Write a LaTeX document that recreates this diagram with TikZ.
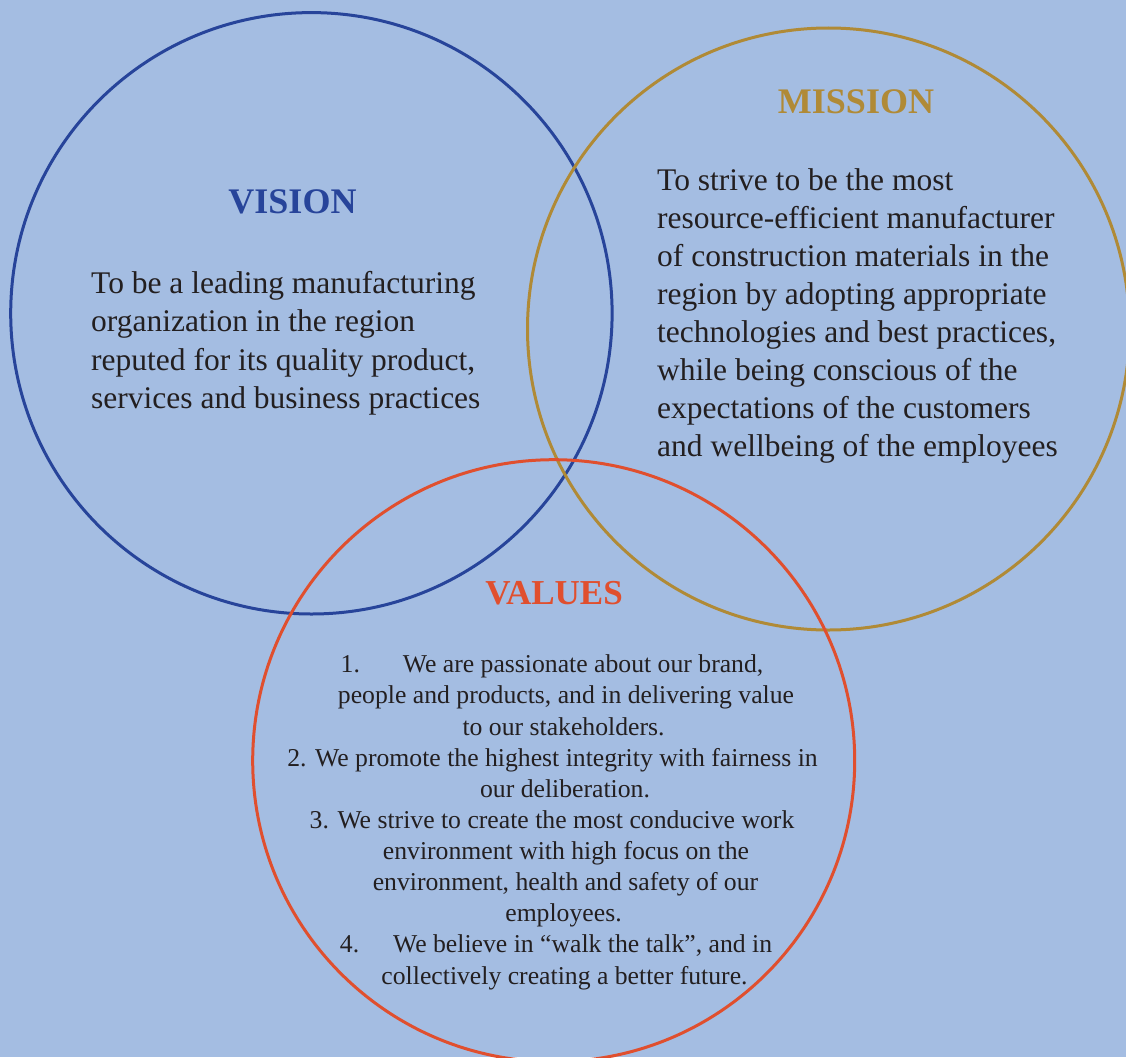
\documentclass[tikz,border=0pt]{standalone}
\usepackage{fontspec}
\setmainfont{Liberation Serif}
\definecolor{bg}{HTML}{A4BDE2}
\definecolor{visionc}{HTML}{27449A}
\definecolor{missionc}{HTML}{B08A36}
\definecolor{valuesc}{HTML}{E04F2E}
\definecolor{txt}{HTML}{231F20}
\begin{document}
\begin{tikzpicture}[x=1pt,y=-1pt,
  ring/.style={line width=3pt},
  heading/.style={font=\bfseries\fontsize{36}{40}\selectfont, anchor=base, inner sep=0pt},
  bodytext/.style={font=\fontsize{31.5}{38.2}\selectfont, text=txt, anchor=base west, inner sep=0pt},
  valline/.style={font=\fontsize{25.7}{31}\selectfont, text=txt, anchor=base, inner sep=0pt}]
\fill[bg] (0,0) rectangle (1126,1057);
\useasboundingbox (0,0) rectangle (1126,1057);
\begin{scope}
\clip (0,0) rectangle (1126,1057);
\draw[ring, visionc] (311.4,313.3) circle[radius=300.7];
\draw[ring, missionc] (828.5,329) circle[radius=301];
\draw[ring, valuesc] (553.7,760.7) circle[radius=301];
\end{scope}
% headings
\node[heading, text=visionc] (vh) at (292.5,213) {VISION};
\node[heading, text=missionc] (mh) at (856,113) {MISSION};
\node[heading, text=valuesc, font=\bfseries\fontsize{35}{40}\selectfont] (vah) at (554,604) {VALUES};
% vision body
\node[bodytext] (vb1) at (91,293) {To be a leading manufacturing};
\node[bodytext] (vb2) at (91,331.5) {organization in the region};
\node[bodytext] (vb3) at (91,370) {reputed for its quality product,};
\node[bodytext] (vb4) at (91,408) {services and business practices};
% mission body
\node[bodytext] (mb1) at (657,190) {To strive to be the most};
\node[bodytext] (mb2) at (657,228.1) {resource-efficient manufacturer};
\node[bodytext] (mb3) at (657,266.2) {of construction materials in the};
\node[bodytext] (mb4) at (657,304.3) {region by adopting appropriate};
\node[bodytext] (mb5) at (657,342.4) {technologies and best practices,};
\node[bodytext] (mb6) at (657,380.5) {while being conscious of the};
\node[bodytext] (mb7) at (657,418.6) {expectations of the customers};
\node[bodytext] (mb8) at (657,456.7) {and wellbeing of the employees};
% values body
\node[valline] (l1) at (552,672) {1.\hspace{1.67em}We are passionate about our brand,};
\node[valline] (l2) at (566,703) {people and products, and in delivering value};
\node[valline] (l3) at (563.5,735) {to our stakeholders.};
\node[valline] (l4) at (552.5,766) {2. We promote the highest integrity with fairness in};
\node[valline] (l5) at (565,797) {our deliberation.};
\node[valline] (l6) at (552,828) {3. We strive to create the most conducive work};
\node[valline] (l7) at (566,859) {environment with high focus on the};
\node[valline] (l8) at (565.5,890) {environment, health and safety of our};
\node[valline] (l9) at (563.5,921) {employees.};
\node[valline] (l10) at (556,952) {4.\hspace{1.32em}We believe in “walk the talk”, and in};
\node[valline] (l11) at (564.5,984) {collectively creating a better future.};
\end{tikzpicture}
\end{document}
